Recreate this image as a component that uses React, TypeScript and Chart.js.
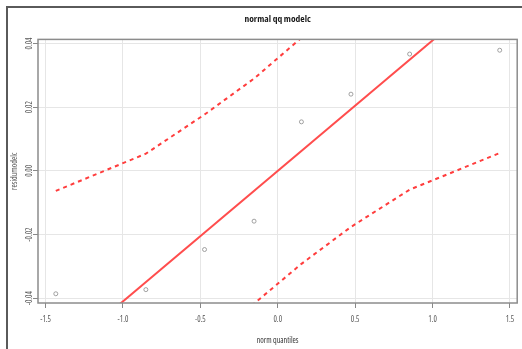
import { useEffect, useRef } from "react";
import { Chart, registerables } from "chart.js";

Chart.register(...registerables);

// theoretical normal quantiles (x) and residuals (y)
const quantiles = [-1.434, -0.852, -0.473, -0.153, 0.153, 0.473, 0.852, 1.434];
const residuals = [-0.0386, -0.0373, -0.0247, -0.0158, 0.0154, 0.0241, 0.0367, 0.0379];
// confidence envelope
const upperBand = [-0.0063, 0.0054, 0.0177, 0.029, 0.0418, 0.0564, 0.0754, 0.1118];
const lowerBand = [-0.1118, -0.0754, -0.0564, -0.0417, -0.0292, -0.0176, -0.0059, 0.0056];
// reference qq line (end points across plot)
const refLineX = [-1.549, 1.547];
const refLineY = [-0.0635, 0.0634];

const xTicks = [-1.5, -1.0, -0.5, 0.0, 0.5, 1.0, 1.5];
const yTicks = [-0.04, -0.02, 0.0, 0.02, 0.04];
const xRange = [-1.549, 1.547];
const yRange = [-0.0415, 0.0413];

const FONT = "'Open Sans', 'Liberation Sans', sans-serif";

const framePlugin = {
  id: "frame",
  afterDatasetsDraw(chart: any) {
    const { ctx, chartArea } = chart;
    const { left, top, right, bottom } = chartArea;
    ctx.save();
    ctx.strokeStyle = "#8c8c8c";
    ctx.lineWidth = 1.5;
    ctx.strokeRect(left, top, right - left, bottom - top);
    ctx.restore();
  },
};

export default function App() {
  const ref = useRef<HTMLCanvasElement | null>(null);

  useEffect(() => {
    if (!ref.current) return;
    const pts = quantiles.map((q, i) => ({ x: q, y: residuals[i] }));
    const up = quantiles.map((q, i) => ({ x: q, y: upperBand[i] }));
    const lo = quantiles.map((q, i) => ({ x: q, y: lowerBand[i] }));
    const ln = refLineX.map((x, i) => ({ x, y: refLineY[i] }));

    const chart = new Chart(ref.current, {
      type: "scatter",
      data: {
        datasets: [
          {
            label: "line",
            data: ln,
            showLine: true,
            borderColor: "#ff4d4d",
            borderWidth: 2,
            pointRadius: 0,
          },
          {
            label: "upper",
            data: up,
            showLine: true,
            borderColor: "#ff3d3d",
            borderWidth: 2,
            borderDash: [4, 4],
            pointRadius: 0,
          },
          {
            label: "lower",
            data: lo,
            showLine: true,
            borderColor: "#ff3d3d",
            borderWidth: 2,
            borderDash: [4, 4],
            pointRadius: 0,
          },
          {
            label: "residuals",
            data: pts,
            showLine: false,
            pointRadius: 2,
            pointBorderWidth: 0.8,
            pointBorderColor: "#8a8a8a",
            pointBackgroundColor: "rgba(0,0,0,0)",
          },
        ],
      },
      options: {
        animation: false,
        responsive: false,
        devicePixelRatio: 1,
        layout: { padding: { left: 0, right: 2, top: 0, bottom: 0 } },
        plugins: {
          legend: { display: false },
          tooltip: { enabled: false },
          title: {
            display: true,
            fullSize: false,
            text: "normal qq modelc",
            color: "#1a1a1a",
            font: { family: FONT, size: 9.5, weight: "bold condensed" },
            padding: { top: 14, bottom: 14 },
          },
        },
        scales: {
          x: {
            type: "linear",
            min: xRange[0],
            max: xRange[1],
            afterBuildTicks: (s: any) => {
              s.ticks = xTicks.map((v) => ({ value: v }));
            },
            afterFit: (s: any) => {
              s.height = 46;
              s.paddingLeft = 0;
              s.paddingRight = 0;
            },
            ticks: {
              color: "#555",
              font: { family: FONT, size: 8, weight: "condensed" },
              padding: 7,
              callback: (v: any) => Number(v).toFixed(1),
              maxRotation: 0,
              minRotation: 0,
            },
            grid: { color: "#e6e6e6", lineWidth: 1, tickLength: 5, tickColor: "#888" },
            border: { display: false },
            title: {
              display: true,
              text: "norm quantiles",
              color: "#333",
              font: { family: FONT, size: 8, weight: "condensed" },
              padding: { top: 0, bottom: 3 },
            },
          },
          y: {
            type: "linear",
            min: yRange[0],
            max: yRange[1],
            afterBuildTicks: (s: any) => {
              s.ticks = yTicks.map((v) => ({ value: v }));
            },
            afterFit: (s: any) => {
              s.width = 38;
              s.paddingTop = 0;
              s.paddingBottom = 0;
            },
            ticks: {
              color: "#555",
              font: { family: FONT, size: 8, weight: "condensed" },
              padding: -4,
              minRotation: 90,
              maxRotation: 90,
              crossAlign: "center",
              callback: (v: any) => Number(v).toFixed(2),
            },
            grid: { color: "#e6e6e6", lineWidth: 1, tickLength: 5, tickColor: "#888" },
            border: { display: false },
            title: {
              display: true,
              text: "residumodelc",
              color: "#555",
              font: { family: FONT, size: 8, weight: "condensed" },
              padding: { top: 10, bottom: 0 },
            },
          },
        },
      },
      plugins: [framePlugin],
    } as any);
    return () => chart.destroy();
  }, []);

  return (
    <div style={{ position: "fixed", left: 0, top: 0, width: 522, height: 349, background: "#fff" }}>
      <canvas ref={ref} width={522} height={349} style={{ position: "absolute", left: 0, top: 0, display: "block" }} />
      <div
        style={{
          position: "absolute",
          left: 6,
          top: 6,
          width: 520,
          height: 345,
          borderTop: "2px solid #5a5a5a",
          borderLeft: "2px solid #5a5a5a",
          pointerEvents: "none",
        }}
      />
    </div>
  );
}
